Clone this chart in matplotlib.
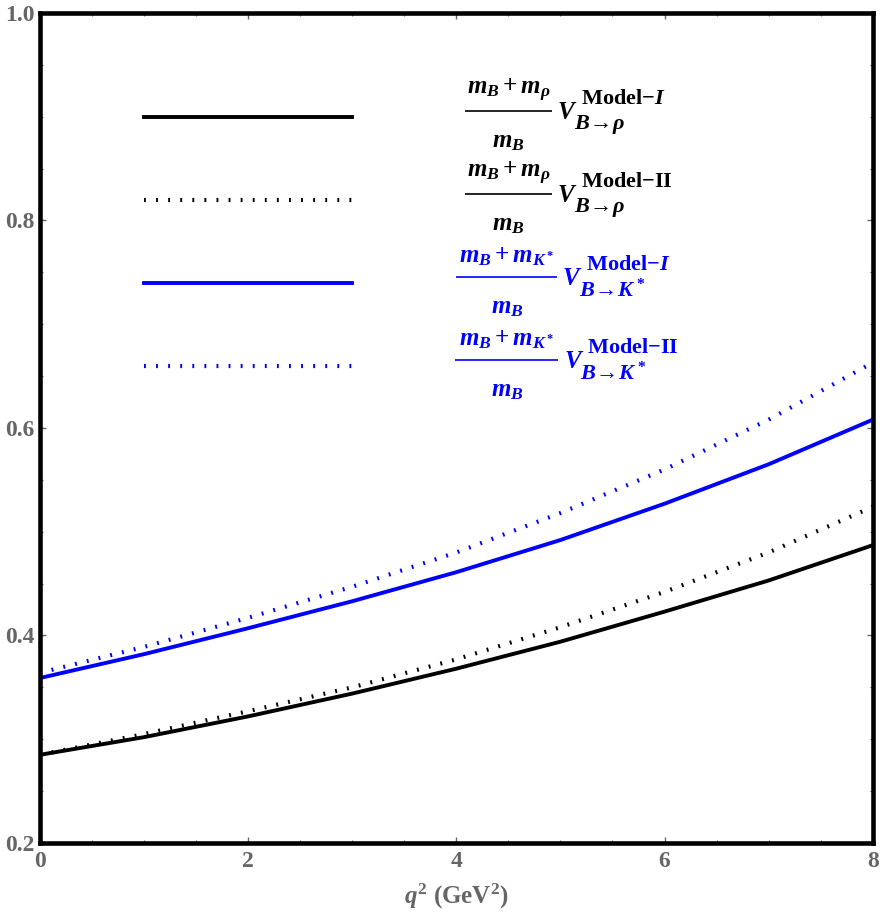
import numpy as np
import matplotlib
matplotlib.use("Agg")
import matplotlib.pyplot as plt
from matplotlib.ticker import MultipleLocator

plt.rcParams['mathtext.fontset'] = 'custom'
plt.rcParams['mathtext.rm'] = 'Liberation Serif:bold'
plt.rcParams['mathtext.bf'] = 'Liberation Serif:bold'
plt.rcParams['mathtext.it'] = 'Liberation Serif:italic:bold'
plt.rcParams['font.family'] = ['Liberation Serif', 'DejaVu Sans']
plt.rcParams['font.weight'] = 'bold'

# q^2 grid (GeV^2) and values
q2 = [0, 1, 2, 3, 4, 5, 6, 7, 8]
rho_model1 = [0.285, 0.302, 0.322, 0.344, 0.368, 0.394, 0.423, 0.453, 0.487]
rho_model2 = [0.285, 0.305, 0.327, 0.350, 0.377, 0.408, 0.442, 0.480, 0.524]
kst_model1 = [0.359, 0.382, 0.407, 0.433, 0.461, 0.492, 0.527, 0.565, 0.608]
kst_model2 = [0.364, 0.389, 0.417, 0.447, 0.480, 0.518, 0.560, 0.608, 0.663]

# legend (drawn inside the frame, data coords)
leg_x = [1, 3]
leg_y = [0.90, 0.82, 0.74, 0.66]
leg_num = [r'$m_B + m_\rho$', r'$m_B + m_\rho$', r'$m_B + m_{K^*}$', r'$m_B + m_{K^*}$']
leg_den = r'$m_B$'
leg_sub = [r'$B\!\rightarrow\!\rho$', r'$B\!\rightarrow\!\rho$',
           r'$B\!\rightarrow\!K^*$', r'$B\!\rightarrow\!K^*$']
leg_sup = [r'Model$-I$', r'Model$-$II', r'Model$-I$', r'Model$-$II']
bar_x = [(4.08, 4.92), (4.08, 4.92), (4.00, 4.97), (3.99, 4.98)]

blue = '#0000ff'
gray = '#666666'
dots = (0, (0.45, 2.45))
styles = [('black', '-'), ('black', dots), (blue, '-'), (blue, dots)]
series = [rho_model1, rho_model2, kst_model1, kst_model2]

fig = plt.figure(figsize=(8.86, 9.15), dpi=100)
ax = fig.add_axes([0.045, 0.0787, 0.940, 0.9071])

for ys, (c, ls) in zip(series, styles):
    ax.plot(q2, ys, color=c, linestyle=ls, lw=2.8 if ls == '-' else 3.0)

for i, (c, ls) in enumerate(styles):
    y = leg_y[i]
    ax.plot(leg_x, [y, y], color=c, linestyle=ls, lw=2.8 if ls == '-' else 3.0)
    x0, x1 = bar_x[i]
    xm = (x0 + x1) / 2
    ax.plot([x0, x1], [y + 0.0058] * 2, color=c, lw=1.2, solid_capstyle='butt')
    ax.text(xm, y + 0.025, leg_num[i], color=c, fontsize=18, ha='center', va='center')
    ax.text(xm, y - 0.024, leg_den, color=c, fontsize=18, ha='center', va='center')
    xv = x1 + 0.05
    ax.text(xv, y + 0.004, r'$V$', color=c, fontsize=18, ha='left', va='center')
    ax.text(xv + 0.23, y + 0.0175, leg_sup[i], color=c, fontsize=16, ha='left', va='center')
    ax.text(xv + 0.16, y - 0.0075, leg_sub[i], color=c, fontsize=16, ha='left', va='center')

ax.set_xlim(0, 8)
ax.set_ylim(0.2, 1.0)
ax.xaxis.set_major_locator(MultipleLocator(2))
ax.xaxis.set_minor_locator(MultipleLocator(0.5))
ax.yaxis.set_major_locator(MultipleLocator(0.2))
ax.yaxis.set_minor_locator(MultipleLocator(0.05))
ax.set_xticklabels([str(int(v)) for v in ax.get_xticks()])
ax.set_yticklabels(['%.1f' % v for v in ax.get_yticks()])

ax.tick_params(which='both', direction='in', top=True, right=True, colors=gray,
               labelsize=17, labelcolor=gray)
ax.tick_params(which='major', length=4, width=1)
ax.tick_params(which='minor', length=2.5, width=0.8)
ax.tick_params(axis='x', pad=6)
ax.tick_params(axis='y', pad=4)
for lab in ax.get_xticklabels() + ax.get_yticklabels():
    lab.set_fontweight('bold')

for sp in ax.spines.values():
    sp.set_linewidth(3.3)
    sp.set_color('black')

ax.set_xlabel(r'$q^2$ (GeV$^2$)', fontsize=18, color=gray, labelpad=7,
              fontweight='bold')

fig.savefig('out.png', dpi=100)
